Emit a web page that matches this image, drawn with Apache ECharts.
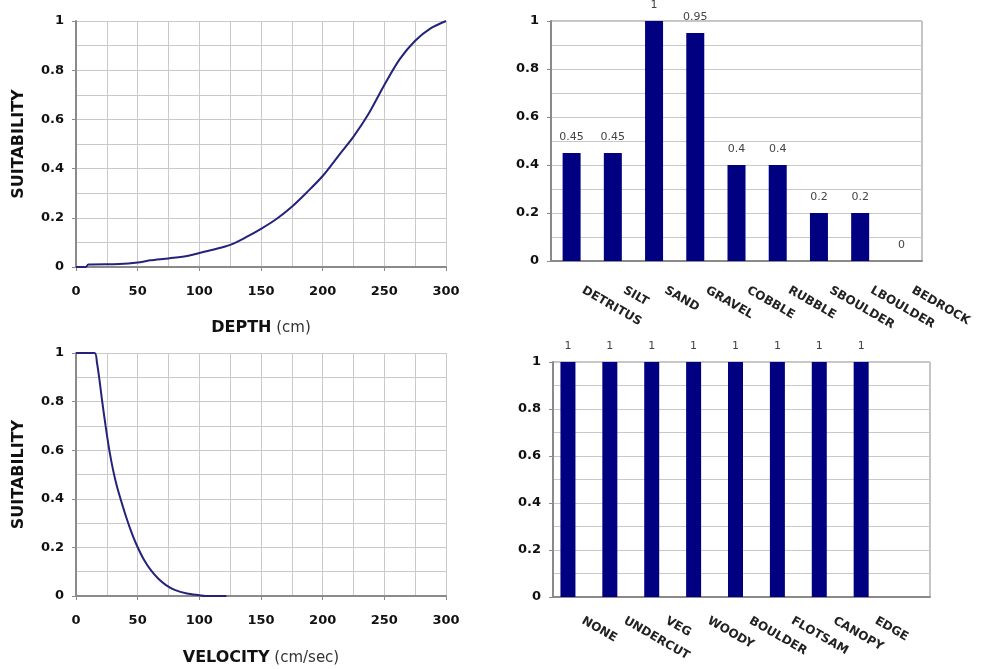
<!DOCTYPE html>
<html>
<head>
<meta charset="utf-8">
<script src="https://cdn.jsdelivr.net/npm/echarts@6/dist/echarts.min.js"></script>
<style>
html,body{margin:0;padding:0;background:#fff;}
#chart{width:982px;height:669px;}
</style>
</head>
<body>
<div id="chart"></div>
<script>
// ---- data ----
var depthX = [0, 8, 10, 35, 50, 60, 75, 90, 100, 112.5, 125, 137.5, 150, 162.5, 175, 187.5, 200, 212.5, 225, 237.5, 250, 262.5, 275, 287.5, 300];
var depthY = [0, 0, 0.01, 0.012, 0.018, 0.027, 0.035, 0.045, 0.057, 0.072, 0.09, 0.12, 0.155, 0.195, 0.245, 0.305, 0.37, 0.45, 0.53, 0.625, 0.74, 0.845, 0.92, 0.97, 1.0];
var velX = [0, 15, 17, 19, 21, 24, 27, 30, 33, 37, 41, 45, 49, 55, 61, 67, 73, 80, 90, 100, 105, 122];
var velY = [1, 1, 0.96, 0.89, 0.81, 0.7, 0.6, 0.52, 0.455, 0.385, 0.32, 0.262, 0.212, 0.15, 0.104, 0.07, 0.045, 0.025, 0.01, 0.003, 0, 0];
var substrates = ['DETRITUS', 'SILT', 'SAND', 'GRAVEL', 'COBBLE', 'RUBBLE', 'SBOULDER', 'LBOULDER', 'BEDROCK'];
var substrateValues = [0.45, 0.45, 1, 0.95, 0.4, 0.4, 0.2, 0.2, 0];
var covers = ['NONE', 'UNDERCUT', 'VEG', 'WOODY', 'BOULDER', 'FLOTSAM', 'CANOPY', 'EDGE', ''];
var coverValues = [1, 1, 1, 1, 1, 1, 1, 1, null];

function pairs(xs, ys) { return xs.map(function (x, i) { return [x, ys[i]]; }); }

var FONT = 'DejaVu Sans';
var GRIDC = '#c9c9c9';
var AXC = '#8a8a8a';
var NAVY = '#000080';
var LINEC = '#23237a';

function valueYAxis(gridIndex, nameText, gap) {
  var ax = {
    type: 'value', gridIndex: gridIndex, min: 0, max: 1, interval: 0.2,
    axisLine: { show: true, lineStyle: { color: AXC, width: 2 } },
    axisTick: { show: true, length: 4, inside: false, lineStyle: { color: AXC } },
    axisLabel: { margin: 12, color: '#111', fontFamily: FONT, fontWeight: 'bold', fontSize: 13 },
    splitLine: { show: true, lineStyle: { color: GRIDC, width: 1 } },
    minorTick: { show: false, splitNumber: 2 },
    minorSplitLine: { show: true, lineStyle: { color: GRIDC, width: 1 } }
  };
  if (nameText) {
    ax.name = nameText;
    ax.nameLocation = 'middle';
    ax.nameGap = gap;
    ax.nameTextStyle = { fontFamily: FONT, fontWeight: 'bold', fontSize: 16, color: '#111' };
  }
  return ax;
}

function valueXAxis(gridIndex, bold, light, gap) {
  return {
    type: 'value', gridIndex: gridIndex, min: 0, max: 300, interval: 50,
    axisLine: { show: true, lineStyle: { color: AXC, width: 2 } },
    axisTick: { show: true, length: 4, lineStyle: { color: AXC } },
    axisLabel: { margin: 18, color: '#111', fontFamily: FONT, fontWeight: 'bold', fontSize: 13 },
    splitLine: { show: true, lineStyle: { color: GRIDC, width: 1 } },
    minorTick: { show: false, splitNumber: 2 },
    minorSplitLine: { show: true, lineStyle: { color: GRIDC, width: 1 } },
    name: '{b|' + bold + '} {n|' + light + '}',
    nameLocation: 'middle',
    nameGap: gap,
    nameTextStyle: {
      fontFamily: FONT, fontSize: 15, color: '#111',
      rich: {
        b: { fontFamily: FONT, fontWeight: 'bold', fontSize: 16, color: '#111' },
        n: { fontFamily: FONT, fontWeight: 'normal', fontSize: 15, color: '#333' }
      }
    }
  };
}

function catXAxis(gridIndex, data, pad, margin) {
  return {
    type: 'category', gridIndex: gridIndex, data: data,
    axisLine: { show: true, lineStyle: { color: AXC, width: 2 } },
    axisTick: { show: false },
    axisLabel: {
      interval: 0, rotate: -30, margin: margin, padding: [0, 0, 0, pad],
      color: '#222', fontFamily: FONT, fontWeight: 'bold', fontSize: 12
    },
    splitLine: { show: false }
  };
}

var barLabel = { show: true, position: 'top', distance: 10, color: '#444', fontFamily: FONT, fontSize: 11 };

var option = {
  animation: false,
  backgroundColor: '#fff',
  grid: [
    { left: 76, top: 21, width: 370, height: 246, outerBoundsMode: 'none', containLabel: false },
    { left: 551, top: 21, width: 371, height: 240, show: true, borderColor: AXC, borderWidth: 1, outerBoundsMode: 'none', containLabel: false },
    { left: 76, top: 353, width: 370, height: 243, outerBoundsMode: 'none', containLabel: false },
    { left: 553, top: 362, width: 377, height: 235, show: true, borderColor: AXC, borderWidth: 1, outerBoundsMode: 'none', containLabel: false }
  ],
  xAxis: [
    valueXAxis(0, 'DEPTH', '(cm)', 53),
    catXAxis(1, substrates, 13, 22),
    valueXAxis(2, 'VELOCITY', '(cm/sec)', 54),
    catXAxis(3, covers, 10, 18)
  ],
  yAxis: [
    valueYAxis(0, 'SUITABILITY', 49),
    valueYAxis(1),
    valueYAxis(2, 'SUITABILITY', 49),
    valueYAxis(3)
  ],
  series: [
    {
      type: 'line', xAxisIndex: 0, yAxisIndex: 0, data: pairs(depthX, depthY),
      showSymbol: false, smooth: 0.3, lineStyle: { color: LINEC, width: 2 }
    },
    {
      type: 'bar', xAxisIndex: 1, yAxisIndex: 1, data: substrateValues,
      barWidth: 18, itemStyle: { color: NAVY }, label: barLabel
    },
    {
      type: 'line', xAxisIndex: 2, yAxisIndex: 2, data: pairs(velX, velY),
      showSymbol: false, smooth: 0.3, lineStyle: { color: LINEC, width: 2 }
    },
    {
      type: 'bar', xAxisIndex: 3, yAxisIndex: 3, data: coverValues,
      barWidth: 15, barGap: '-20%', itemStyle: { color: NAVY }, label: barLabel
    },
    {
      type: 'bar', xAxisIndex: 3, yAxisIndex: 3, data: [],
      barWidth: 15, barGap: '-20%', itemStyle: { color: NAVY }
    }
  ]
};

var chart = echarts.init(document.getElementById('chart'), null, { renderer: 'canvas' });
chart.setOption(option);
</script>
</body>
</html>
